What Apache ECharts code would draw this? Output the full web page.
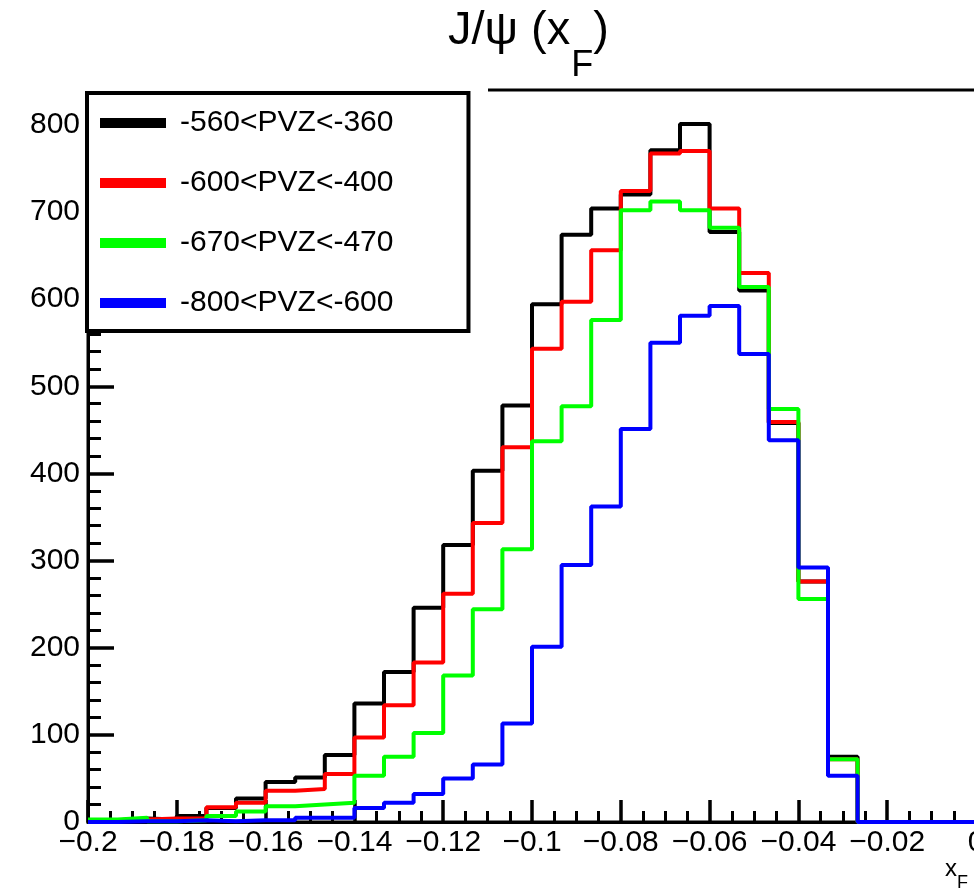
<!DOCTYPE html>
<html>
<head>
<meta charset="utf-8">
<script src="https://cdn.jsdelivr.net/npm/echarts@6/dist/echarts.min.js"></script>
<style>
html,body{margin:0;padding:0;background:#fff;}
#chart{width:974px;height:894px;}
</style>
</head>
<body>
<div id="chart"></div>
<script>
// Histogram: 30 bins from -0.2 to 0 in x_F
const xMin = -0.2;
const xMax = 0;
const nBins = 30;
const yMax = 840;
const seriesNames = ['-560<PVZ<-360', '-600<PVZ<-400', '-670<PVZ<-470', '-800<PVZ<-600'];
const seriesColors = ['#000000', '#ff0000', '#00ff00', '#0000ff'];

const black = [2, 4, 3, 7, 16, 27, 46, 51, 77, 136, 172, 246, 318, 403, 478, 594, 674, 704, 720, 771, 801, 677, 610, 458, 276, 75, 0, 0, 0, 0];
const red   = [1, 3, 4, 4, 17, 22, 36, 38, 55, 97, 134, 183, 262, 343, 430, 543, 597, 656, 724, 767, 770, 704, 630, 459, 276, 72, 0, 0, 0, 0];
const green = [3, 5, 1, 2, 7, 12, 18, 20, 22, 53, 75, 102, 168, 244, 313, 437, 477, 576, 702, 712, 702, 682, 614, 474, 256, 72, 0, 0, 0, 0];
const blue  = [0, 1, 1, 2, 1, 2, 2, 5, 5, 16, 22, 32, 50, 66, 113, 201, 295, 362, 451, 550, 581, 592, 537, 438, 292, 53, 0, 0, 0, 0];

const binW = (xMax - xMin) / nBins;
function histPoints(vals) {
  const pts = [];
  for (let i = 0; i < vals.length; i++) pts.push([xMin + i * binW, vals[i]]);
  pts.push([xMin + vals.length * binW, vals[vals.length - 1]]);
  return pts;
}
const allVals = [black, red, green, blue];

const FONT = 'Liberation Sans, Arial, Helvetica, sans-serif';
const chart = echarts.init(document.getElementById('chart'), null, {renderer: 'canvas'});

const option = {
  animation: false,
  backgroundColor: '#ffffff',
  title: {
    left: 448, top: 8, padding: 0,
    text: '{m|J/ψ (x}{s|F}{m|)}',
    textStyle: {
      fontWeight: 'normal',
      rich: {
        m: {fontSize: 47, lineHeight: 47, fontFamily: FONT, fontWeight: 'normal', color: '#000', verticalAlign: 'top'},
        s: {fontSize: 36, lineHeight: 36, fontFamily: FONT, fontWeight: 'normal', color: '#000', verticalAlign: 'top', padding: [40, 0, 0, 1]}
      }
    }
  },
  grid: {
    left: 88, right: -2, top: 90, bottom: 72,
    show: true, borderColor: '#000', borderWidth: 3, backgroundColor: 'transparent',
    containLabel: false, outerBoundsMode: 'none'
  },
  legend: {
    orient: 'vertical', left: 87, top: 93,
    padding: [15, 75, 13, 13],
    itemWidth: 66, itemHeight: 10, itemGap: 30,
    icon: 'rect',
    backgroundColor: '#fff', borderColor: '#000', borderWidth: 4,
    textStyle: {fontSize: 30, fontFamily: FONT, color: '#000', padding: [0, 0, 0, 9]},
    data: seriesNames,
    z: 100
  },
  xAxis: {
    type: 'value', min: xMin, max: xMax, interval: 0.02,
    axisLine: {onZero: false, lineStyle: {color: '#000', width: 3}},
    axisTick: {inside: true, length: 22, lineStyle: {color: '#000', width: 3.5}},
    minorTick: {show: true, splitNumber: 4, length: 11, lineStyle: {color: '#000', width: 3}},
    splitLine: {show: false},
    axisLabel: {
      fontSize: 30, fontFamily: FONT, color: '#000', margin: 6,
      showMinLabel: true, showMaxLabel: true,
      formatter: function (v) { return String(Math.round(v * 100) / 100).replace('-', '\u2212'); }
    }
  },
  yAxis: {
    type: 'value', min: 0, max: yMax, interval: 100,
    axisLine: {show: true, onZero: false, lineStyle: {color: '#000', width: 3}},
    axisTick: {show: true, inside: true, length: 26, lineStyle: {color: '#000', width: 3.5}},
    minorTick: {show: true, splitNumber: 5, length: 13, lineStyle: {color: '#000', width: 3}},
    splitLine: {show: false},
    axisLabel: {fontSize: 30, fontFamily: FONT, color: '#000', margin: 8, padding: [10, 0, 0, 0], showMaxLabel: false}
  },
  graphic: [
    {type: 'rect', shape: {x: 83, y: 83, width: 405, height: 248}, style: {fill: '#fff'}, z: 50, silent: true},
    {type: 'text', x: 945, y: 857, z: 60, style: {
      text: '{m|x}{s|F}',
      rich: {
        m: {fontSize: 24, lineHeight: 24, fontFamily: FONT, fill: '#000', verticalAlign: 'top'},
        s: {fontSize: 18, lineHeight: 18, fontFamily: FONT, fill: '#000', verticalAlign: 'top', padding: [17, 0, 0, 0]}
      }
    }}
  ],
  series: allVals.map(function (vals, k) {
    return {
      name: seriesNames[k], type: 'line', step: 'end',
      data: histPoints(vals), symbol: 'none', color: seriesColors[k],
      lineStyle: {color: seriesColors[k], width: 4}, clip: true
    };
  })
};
chart.setOption(option);
</script>
</body>
</html>
